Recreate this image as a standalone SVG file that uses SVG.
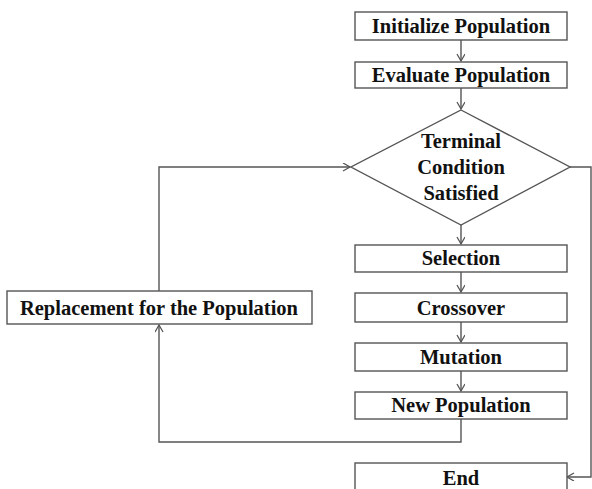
<svg xmlns="http://www.w3.org/2000/svg" width="592" height="489" viewBox="0 0 592 489">
<defs>
<style>
.box{fill:#fff;stroke:#555;stroke-width:1.4}
.lbl{font-family:"Liberation Serif","Times New Roman",serif;font-weight:bold;font-size:20.5px;fill:#111;text-anchor:middle}
.con{fill:none;stroke:#555;stroke-width:1.4}
</style>
<marker id="arr" markerWidth="10" markerHeight="10" refX="8" refY="4" orient="auto" markerUnits="userSpaceOnUse">
<path d="M1,0 L8,4 L1,8" fill="none" stroke="#555" stroke-width="1.3"/>
</marker>
</defs>
<rect width="592" height="489" fill="#fff"/>
<g id="connectors">
<line class="con" x1="461" y1="40" x2="461" y2="61" marker-end="url(#arr)"/>
<line class="con" x1="461" y1="88" x2="461" y2="109" marker-end="url(#arr)"/>
<line class="con" x1="461" y1="225" x2="461" y2="244" marker-end="url(#arr)"/>
<line class="con" x1="461" y1="272" x2="461" y2="292" marker-end="url(#arr)"/>
<line class="con" x1="461" y1="322" x2="461" y2="342" marker-end="url(#arr)"/>
<line class="con" x1="461" y1="371" x2="461" y2="391" marker-end="url(#arr)"/>
<polyline class="con" points="461,419 461,442 159,442 159,325" marker-end="url(#arr)"/>
<polyline class="con" points="159,291 159,167 350,167" marker-end="url(#arr)"/>
<polyline class="con" points="570,167 591,167 591,477 567,477" marker-end="url(#arr)"/>
</g>
<g id="init"><rect class="box" x="355" y="12" width="212" height="28"/><text class="lbl" x="461" y="33">Initialize Population</text></g>
<g id="eval"><rect class="box" x="355" y="62" width="212" height="26"/><text class="lbl" x="461" y="82">Evaluate Population</text></g>
<g id="terminal"><polygon class="box" points="461,110 570,167 461,225 351,167"/>
<text class="lbl" x="461" y="148">Terminal</text><text class="lbl" x="461" y="174">Condition</text><text class="lbl" x="461" y="200">Satisfied</text></g>
<g id="selection"><rect class="box" x="355" y="245" width="212" height="27"/><text class="lbl" x="461" y="265">Selection</text></g>
<g id="crossover"><rect class="box" x="355" y="293" width="212" height="29"/><text class="lbl" x="461" y="315">Crossover</text></g>
<g id="mutation"><rect class="box" x="355" y="343" width="212" height="28"/><text class="lbl" x="461" y="364">Mutation</text></g>
<g id="newpop"><rect class="box" x="355" y="392" width="212" height="27"/><text class="lbl" x="461" y="412">New Population</text></g>
<g id="end"><rect class="box" x="355" y="463" width="212" height="40"/><text class="lbl" x="461" y="485">End</text></g>
<g id="replacement"><rect class="box" x="7" y="291" width="305" height="33"/><text class="lbl" x="159" y="315">Replacement for the Population</text></g>
</svg>
